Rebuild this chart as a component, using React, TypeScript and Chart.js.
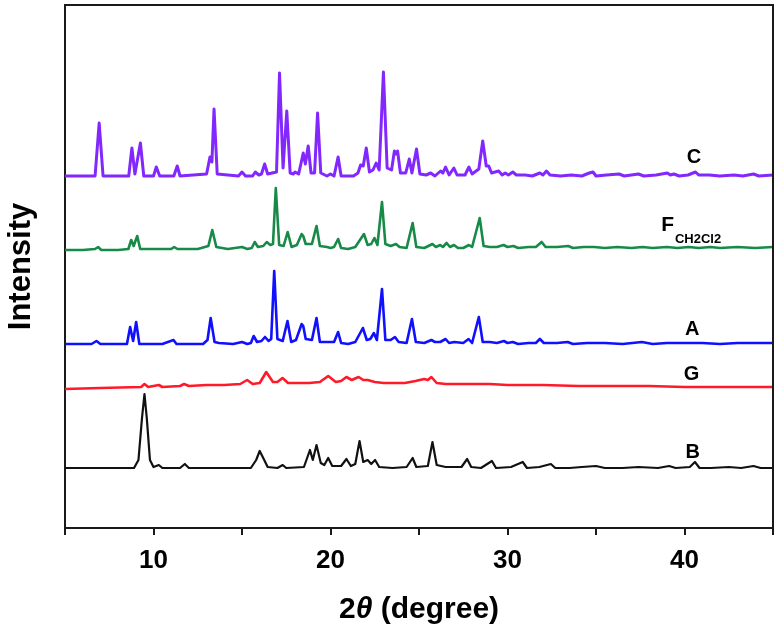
import React, { useEffect, useRef } from 'react';
import { Chart, registerables } from 'chart.js';

Chart.register(...registerables);

// ---- Data (2θ in degrees, intensity in arbitrary units relative to each pattern's baseline) ----
const xMin = 5;
const xMax = 45;
const xTickLabels = ['10', '20', '30', '40'];
const yMax = 523;

const seriesNames = ['C', 'F', 'A', 'G', 'B'];
const seriesSubscripts = ['', 'CH2Cl2', '', '', ''];
const seriesOffsets = [352, 279, 184, 140, 60];
const seriesColors = ['#8228ff', '#178a48', '#1010ff', '#ff1a2a', '#111111'];
const seriesWidths = [3, 2.6, 2.6, 2.6, 2.2];
const labelX = [40.54, 38.68, 40.43, 40.4, 40.47];
const labelY = [371, 302.5, 198.5, 154, 75.5];

const patternC: number[][] = [
  [5, 0], [6.7, 0], [6.93, 53], [7.15, 0], [8.6, 0], [8.78, 28], [8.95, 2], [9.26, 33], [9.45, 0],
  [10.0, 0], [10.16, 9], [10.35, 0], [11.15, 0], [11.34, 10], [11.5, 0], [13.0, 2], [13.19, 19],
  [13.3, 14], [13.42, 67], [13.6, 2], [14.8, 0], [15.0, 4], [15.2, 0], [15.6, 0], [15.75, 4],
  [15.95, 1], [16.1, 2], [16.28, 12], [16.45, 2], [16.95, 4], [17.12, 103], [17.32, 8], [17.53, 65],
  [17.72, 3], [17.9, 2], [18.0, 4], [18.2, 2], [18.3, 10], [18.46, 23], [18.58, 12], [18.74, 30],
  [18.9, 3], [19.1, 3], [19.27, 63], [19.45, 3], [19.8, 0], [20.0, 2], [20.2, 0], [20.43, 19],
  [20.6, 0], [21.0, 0], [21.3, 0], [21.55, 3], [21.7, 11], [21.85, 10], [22.02, 28], [22.2, 4],
  [22.4, 6], [22.58, 13], [22.75, 6], [22.99, 104], [23.2, 8], [23.45, 6], [23.61, 25], [23.7, 22],
  [23.79, 25], [23.95, 3], [24.25, 3], [24.45, 17], [24.6, 3], [24.86, 27], [25.05, 2], [25.4, 1],
  [25.66, 3], [25.9, 0], [26.22, 5], [26.35, 3], [26.5, 9], [26.7, 1], [26.97, 8], [27.15, 1],
  [27.6, 1], [27.82, 9], [28.0, 2], [28.38, 7], [28.6, 35], [28.8, 10], [28.94, 10], [29.1, 3],
  [29.5, 5], [29.7, 1], [29.87, 3], [30.05, 1], [30.3, 4], [30.5, 1], [31.0, 1], [31.4, 0],
  [31.83, 3], [32.0, 1], [32.2, 5], [32.4, 1], [33.0, 0], [33.6, 1], [34.2, 0], [34.62, 3],
  [34.83, 4], [35.0, 0], [35.6, 1], [36.3, 2], [36.6, 0], [37.4, 2], [37.7, 0], [38.4, 1],
  [39.03, 3], [39.2, 1], [39.4, 2], [39.7, 0], [40.2, 1], [40.62, 4], [40.8, 1], [41.4, 1],
  [42.0, 0], [42.8, 1], [43.3, 0], [43.9, 2], [44.2, 0], [45, 1],
];

const patternF: number[][] = [
  [5, -1], [6.0, -1], [6.7, 0], [6.87, 2], [7.05, -1], [8.0, -1], [8.58, 0], [8.74, 9], [8.88, 3],
  [9.08, 13], [9.25, 0], [10.0, 0], [11.0, 0], [11.17, 2], [11.35, 0], [12.5, 0], [13.1, 3],
  [13.32, 19], [13.55, 2], [14.2, 0], [15.0, 2], [15.3, 0], [15.55, 1], [15.72, 7], [15.9, 2],
  [16.2, 3], [16.4, 7], [16.6, 4], [16.75, 5], [16.91, 61], [17.1, 4], [17.35, 3], [17.58, 17],
  [17.8, 2], [18.1, 4], [18.37, 15], [18.46, 13], [18.6, 5], [18.95, 5], [19.21, 23], [19.4, 3],
  [19.8, 2], [20.0, 1], [20.2, 2], [20.43, 10], [20.6, 1], [21.0, 0], [21.4, 2], [21.89, 15],
  [22.1, 4], [22.3, 5], [22.48, 11], [22.65, 4], [22.91, 47], [23.1, 5], [23.4, 3], [23.7, 5],
  [23.9, 2], [24.3, 1], [24.64, 26], [24.85, 2], [25.3, 1], [25.76, 5], [25.95, 2], [26.2, 4],
  [26.35, 2], [26.56, 6], [26.75, 2], [26.98, 4], [27.2, 1], [27.5, 1], [27.82, 4], [28.0, 2],
  [28.43, 31], [28.65, 3], [29.0, 2], [29.4, 2], [29.78, 4], [30.0, 2], [30.34, 3], [30.6, 1],
  [31.2, 2], [31.6, 2], [31.93, 7], [32.15, 2], [32.8, 2], [33.43, 3], [33.7, 1], [34.3, 2],
  [34.9, 2], [35.5, 1], [36.2, 2], [37.0, 1], [37.63, 2], [38.2, 1], [39.0, 2], [39.6, 1],
  [40.25, 2], [40.8, 1], [41.47, 2], [42.0, 1], [43.0, 2], [44.0, 1], [45, 2],
];

const patternA: number[][] = [
  [5, 0], [6.5, 0], [6.78, 3], [7.0, 0], [8.5, 0], [8.68, 17], [8.85, 3], [9.02, 22], [9.2, 0],
  [10.5, 0], [11.13, 4], [11.3, 0], [12.4, 0], [12.8, 0], [13.05, 4], [13.23, 26], [13.45, 2],
  [13.7, 1], [14.5, 0], [15.0, 2], [15.3, 0], [15.5, 1], [15.66, 8], [15.85, 2], [16.1, 3],
  [16.3, 7], [16.5, 3], [16.65, 5], [16.82, 73], [17.0, 5], [17.3, 3], [17.57, 23], [17.78, 2],
  [18.05, 4], [18.37, 20], [18.46, 18], [18.6, 5], [18.95, 4], [19.21, 26], [19.4, 2], [19.8, 2],
  [20.2, 2], [20.43, 12], [20.6, 1], [21.0, 0], [21.4, 2], [21.83, 16], [22.05, 4], [22.25, 5],
  [22.45, 11], [22.62, 4], [22.91, 55], [23.1, 4], [23.4, 4], [23.64, 7], [23.85, 2], [24.3, 1],
  [24.6, 25], [24.82, 2], [25.3, 1], [25.7, 4], [25.9, 2], [26.2, 2], [26.5, 5], [26.7, 1],
  [27.0, 2], [27.5, 1], [27.8, 5], [28.0, 1], [28.38, 27], [28.6, 2], [29.0, 2], [29.4, 1],
  [29.8, 3], [30.0, 1], [30.3, 2], [30.6, 0], [31.2, 1], [31.6, 1], [31.83, 5], [32.05, 1],
  [32.8, 1], [33.4, 2], [33.7, 0], [34.5, 1], [35.5, 1], [36.5, 0], [37.6, 2], [38.2, 0],
  [39.0, 1], [40.3, 1], [41.0, 1], [42.0, 0], [43.0, 1], [44.0, 1], [45, 1],
];

const patternG: number[][] = [
  [5, -1], [7, 0], [9.3, 1], [9.49, 4], [9.7, 1], [10.3, 3], [10.5, 1], [11.5, 2], [11.73, 4],
  [12.0, 2], [13.0, 3], [14.0, 3], [14.9, 4], [15.29, 8], [15.6, 4], [16.0, 5], [16.37, 16],
  [16.75, 6], [17.0, 6], [17.29, 10], [17.6, 5], [18.2, 5], [18.8, 5], [19.4, 6], [19.87, 12],
  [20.3, 6], [20.6, 7], [20.9, 11], [21.2, 8], [21.59, 11], [21.85, 8], [22.1, 8], [22.5, 6],
  [23.0, 5], [23.6, 5], [24.2, 5], [24.8, 7], [25.29, 9], [25.5, 8], [25.7, 11], [26.0, 5],
  [26.5, 4], [27.0, 4], [28.0, 4], [29.0, 4], [30.0, 3], [32.0, 3], [34.0, 2], [36.0, 2],
  [38.0, 2], [40.0, 1], [42.0, 1], [45, 1],
];

const patternB: number[][] = [
  [5, 0], [8.9, 0], [9.15, 8], [9.35, 50], [9.49, 74], [9.62, 50], [9.8, 8], [10.0, 1], [10.3, 3],
  [10.5, 0], [11.5, 0], [11.77, 4], [12.0, 0], [15.5, 0], [15.8, 8], [16.0, 17], [16.2, 10],
  [16.45, 1], [17.0, 0], [17.3, 3], [17.5, 0], [18.5, 1], [18.84, 18], [19.0, 8], [19.21, 23],
  [19.45, 5], [19.65, 3], [19.87, 10], [20.1, 2], [20.6, 2], [20.9, 9], [21.15, 2], [21.4, 4],
  [21.64, 27], [21.85, 6], [22.1, 8], [22.3, 4], [22.52, 8], [22.75, 1], [23.5, 0], [24.3, 1],
  [24.64, 10], [24.85, 1], [25.5, 2], [25.76, 26], [26.0, 3], [26.5, 1], [27.4, 1], [27.72, 9],
  [27.95, 1], [28.5, 0], [29.12, 7], [29.35, 0], [30.2, 1], [30.86, 6], [31.1, 0], [31.8, 1],
  [32.45, 4], [32.7, 0], [33.5, 0], [34.2, 1], [35.0, 2], [35.5, 0], [36.5, 0], [37.4, 1],
  [38.5, 0], [39.13, 2], [39.5, 0], [40.3, 1], [40.59, 6], [40.85, 0], [41.5, 0], [42.5, 1],
  [43.2, 0], [43.9, 2], [44.3, 0], [45, 0],
];

const patterns = [patternC, patternF, patternA, patternG, patternB];

const FONT = '"Liberation Sans", Arial, Helvetica, sans-serif';

const framePlugin = {
  id: 'frame',
  afterDraw(chart: any) {
    const { ctx, chartArea } = chart;
    ctx.save();
    ctx.strokeStyle = '#1a1a1a';
    ctx.lineWidth = 2;
    ctx.beginPath();
    ctx.moveTo(chartArea.left, chartArea.top);
    ctx.lineTo(chartArea.right, chartArea.top);
    ctx.lineTo(chartArea.right, chartArea.bottom);
    ctx.stroke();
    ctx.restore();
  },
};

const labelsPlugin = {
  id: 'seriesLabels',
  afterDatasetsDraw(chart: any) {
    const { ctx } = chart;
    const xs = chart.scales.x;
    const ys = chart.scales.y;
    ctx.save();
    ctx.fillStyle = '#000';
    seriesNames.forEach((name, i) => {
      const px = xs.getPixelForValue(labelX[i]);
      const py = ys.getPixelForValue(labelY[i]);
      if (seriesSubscripts[i]) {
        ctx.font = `bold 21px ${FONT}`;
        ctx.textAlign = 'left';
        ctx.textBaseline = 'middle';
        ctx.fillText(name, px, py);
        const w = ctx.measureText(name).width;
        ctx.font = `bold 13px ${FONT}`;
        ctx.fillText(seriesSubscripts[i], px + w + 1, py + 14);
      } else {
        ctx.font = `bold 20px ${FONT}`;
        ctx.textAlign = 'center';
        ctx.textBaseline = 'middle';
        ctx.fillText(name, px, py);
      }
    });
    ctx.restore();
  },
};

const xTitlePlugin = {
  id: 'xTitle',
  afterDraw(chart: any) {
    const { ctx, chartArea } = chart;
    const parts = [
      { t: '2', f: `bold 30px ${FONT}` },
      { t: 'θ', f: `italic bold 30px ${FONT}` },
      { t: ' (degree)', f: `bold 30px ${FONT}` },
    ];
    ctx.save();
    let total = 0;
    parts.forEach((p) => {
      ctx.font = p.f;
      total += ctx.measureText(p.t).width;
    });
    let x = (chartArea.left + chartArea.right) / 2 - total / 2;
    const y = 618;
    ctx.fillStyle = '#000';
    ctx.textBaseline = 'alphabetic';
    ctx.textAlign = 'left';
    parts.forEach((p) => {
      ctx.font = p.f;
      ctx.fillText(p.t, x, y);
      x += ctx.measureText(p.t).width;
    });
    ctx.restore();
  },
};

export default function App() {
  const ref = useRef<HTMLCanvasElement>(null);

  useEffect(() => {
    document.body.style.margin = '0';
    if (!ref.current) return;
    const datasets = patterns.map((pts, i) => ({
      label: seriesNames[i] + seriesSubscripts[i],
      data: pts.map(([x, y]) => ({ x, y: y + seriesOffsets[i] })),
      borderColor: seriesColors[i],
      borderWidth: seriesWidths[i],
      pointRadius: 0,
      tension: 0,
      fill: false,
      borderJoinStyle: 'round' as const,
      borderCapStyle: 'round' as const,
    }));
    const chart = new Chart(ref.current, {
      type: 'line',
      data: { datasets },
      options: {
        animation: false,
        responsive: false,
        devicePixelRatio: 1,
        layout: { padding: { top: 5, right: 5, left: 0, bottom: 0 } },
        plugins: { legend: { display: false }, tooltip: { enabled: false } },
        scales: {
          x: {
            type: 'linear',
            min: xMin,
            max: xMax,
            afterFit: (s: any) => { s.height = 100; },
            ticks: {
              stepSize: 5,
              autoSkip: false,
              maxRotation: 0,
              padding: 10,
              color: '#000',
              font: { family: FONT, size: 26, weight: 'bold' },
              callback: (v: any) => (xTickLabels.includes(String(v)) ? String(v) : ''),
            },
            grid: {
              drawOnChartArea: false,
              drawTicks: true,
              tickLength: 7,
              lineWidth: 2,
              color: '#1a1a1a',
            },
            border: { display: true, width: 2, color: '#1a1a1a' },
          },
          y: {
            type: 'linear',
            min: 0,
            max: yMax,
            afterFit: (s: any) => { s.width = 65; },
            ticks: { display: false },
            grid: { display: false, drawTicks: false },
            border: { display: true, width: 2, color: '#1a1a1a' },
            title: {
              display: true,
              text: 'Intensity',
              color: '#000',
              font: { family: FONT, size: 31, weight: 'bold' },
              padding: { top: 3, bottom: 0 },
            },
          },
        },
      },
      plugins: [framePlugin, labelsPlugin, xTitlePlugin],
    });
    return () => chart.destroy();
  }, []);

  return (
    <div style={{ width: 783, height: 628, background: '#fff' }}>
      <canvas ref={ref} width={783} height={628} style={{ display: 'block' }} />
    </div>
  );
}
